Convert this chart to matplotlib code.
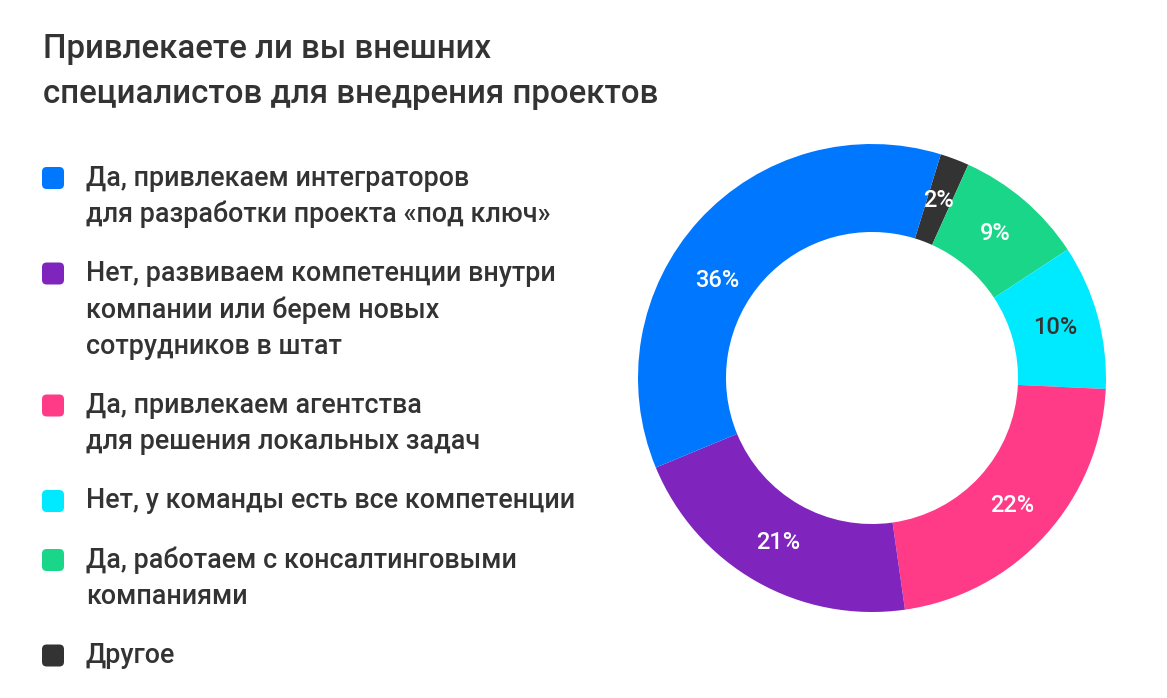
import numpy as np
import matplotlib.pyplot as plt
from matplotlib.patches import FancyBboxPatch

plt.rcParams['font.family'] = ['Roboto', 'DejaVu Sans']

title_lines = ["Привлекаете ли вы внешних", "специалистов для внедрения проектов"]

# legend order (top to bottom)
labels = [
    ["Да, привлекаем интеграторов", "для разработки проекта «под ключ»"],
    ["Нет, развиваем компетенции внутри", "компании или берем новых", "сотрудников в штат"],
    ["Да, привлекаем агентства", "для решения локальных задач"],
    ["Нет, у команды есть все компетенции"],
    ["Да, работаем с консалтинговыми", "компаниями"],
    ["Другое"],
]
values = [36, 21, 22, 10, 9, 2]
colors = ["#0077FF", "#8024BE", "#FF3B88", "#00EAFF", "#1AD688", "#333333"]
pct_colors = ["white", "white", "white", "#333333", "white", "white"]

W, H = 1167, 698
fig = plt.figure(figsize=(W / 100, H / 100), dpi=100)
fig.patch.set_facecolor("white")

txt = "#333333"

# title
for i, line in enumerate(title_lines):
    fig.text(43 / W, 1 - (49 + 45 * i) / H, line, fontsize=23.8, fontweight="medium",
             color=txt, va="center", ha="left")

# legend drawn by hand
y = 178
line_h = 36.5
gap = 59
for lab, col in zip(labels, colors):
    sq = FancyBboxPatch((42 / W, 1 - (y + 11) / H), 22 / W, 22 / H,
                        boxstyle="round,pad=0,rounding_size=0.004",
                        transform=fig.transFigure, facecolor=col, edgecolor="none",
                        mutation_aspect=W / H)
    fig.add_artist(sq)
    for j, line in enumerate(lab):
        fig.text(86 / W, 1 - (y + j * line_h) / H, line, fontsize=19.4, fontweight="medium",
                 color=txt, va="center", ha="left")
    y += (len(lab) - 1) * line_h + gap

# donut, drawn clockwise starting from "Другое"
order = [5, 4, 3, 2, 1, 0]
cx, cy, r = 872, 378, 234
ax = fig.add_axes([(cx - r) / W, (H - cy - r) / H, 2 * r / W, 2 * r / H])
wedges, texts, autotexts = ax.pie(
    [values[k] for k in order],
    colors=[colors[k] for k in order],
    startangle=72.9, counterclock=False,
    wedgeprops=dict(width=0.376, edgecolor="none"),
    autopct="%d%%", pctdistance=0.81,
    textprops=dict(fontsize=17, fontweight="medium"),
)
for t, k in zip(autotexts, order):
    t.set_color(pct_colors[k])
# the big blue label sits a bit lower on its wedge
w = wedges[order.index(0)]
a = np.deg2rad((w.theta1 + w.theta2) / 2 + 10)
autotexts[order.index(0)].set_position((0.78 * np.cos(a), 0.78 * np.sin(a)))
ax.set_aspect("equal")
ax.set_xlim(-1, 1)
ax.set_ylim(-1, 1)
ax.axis("off")

fig.savefig("out.png", dpi=100, facecolor="white")
